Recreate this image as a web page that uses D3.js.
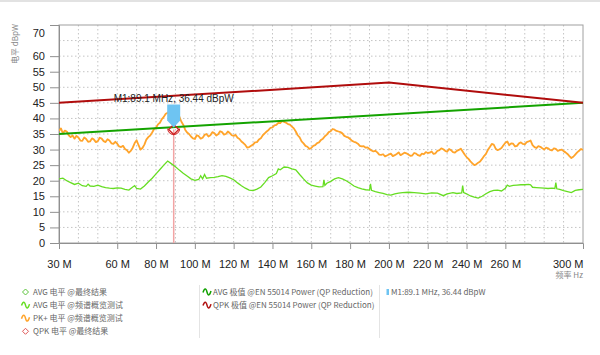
<!DOCTYPE html>
<html><head><meta charset="utf-8">
<script src="https://cdn.jsdelivr.net/npm/d3@7"></script>
<style>
html,body{margin:0;padding:0;background:#fff;}
svg{display:block;}
</style></head>
<body>
<svg id="chart" width="600" height="355"></svg>
<script>
// ---------- data ----------
const xTickLabels = [30, 60, 80, 100, 120, 140, 160, 180, 200, 220, 240, 260, 300];
const yTickLabels = [0, 5, 10, 15, 20, 25, 30, 35, 40, 45, 50, 55, 60, 70];

// PK+ level @ spectrum overview (1 MHz steps from 30 MHz)
const pkFreqStart = 30, pkFreqStep = 1;
const pkValues = [
36.0,36.8,35.2,36.1,35.8,34.6,34.0,34.5,33.5,34.4,33.9,32.9,32.8,33.9,33.4,32.5,32.6,33.6,33.2,32.4,
32.7,33.8,33.5,32.7,32.4,33.3,32.9,32.0,31.8,32.5,31.9,31.0,30.8,31.2,30.2,29.8,29.0,29.6,30.6,32.1,
33.0,31.4,30.0,30.5,31.6,33.2,34.0,34.5,35.5,36.6,37.0,38.1,38.6,39.8,40.5,41.5,41.8,42.5,42.2,41.4,
41.0,41.5,40.6,39.0,38.0,36.4,35.5,35.0,34.2,33.6,33.4,34.6,34.3,33.5,33.8,34.7,35.0,34.2,34.6,35.6,
35.3,34.5,34.9,35.9,35.6,34.8,35.0,35.8,35.3,34.6,34.4,34.7,33.8,33.4,32.6,32.1,31.5,30.6,30.8,31.2,
31.6,32.3,32.4,33.2,33.6,34.6,35.2,35.8,36.3,37.0,37.1,37.8,37.9,38.6,38.5,39.2,38.9,38.6,38.2,38.0,
37.4,36.8,35.8,34.6,33.9,32.6,32.0,31.2,30.9,30.2,30.5,31.2,31.4,32.1,32.3,33.1,33.5,34.3,34.8,35.6,
35.9,36.6,36.4,36.0,35.8,35.6,35.2,34.4,34.1,33.9,33.4,32.8,32.5,32.3,31.9,31.2,31.0,31.1,30.6,30.7,
30.2,29.7,29.4,29.6,29.1,28.4,28.3,28.5,27.8,28.1,28.4,28.7,27.9,28.2,28.6,29.1,28.2,28.6,29.0,28.8,
28.4,28.0,28.1,28.9,28.7,28.2,28.0,28.7,28.5,29.2,28.9,29.0,29.4,28.6,28.8,29.6,29.8,30.4,30.1,29.6,
29.3,30.2,29.8,29.2,29.0,29.6,29.9,30.3,29.4,28.4,27.6,27.0,26.2,25.6,25.0,25.3,25.8,26.2,27.0,27.9,
28.6,29.9,30.8,31.8,31.6,30.3,29.8,30.1,30.5,31.4,32.2,32.6,31.4,32.0,31.9,31.0,31.2,32.0,32.3,31.8,
31.7,32.4,32.6,32.9,31.4,30.8,30.5,31.1,30.9,30.4,30.0,30.6,30.4,29.9,29.7,30.4,30.2,29.6,29.8,30.0,
29.5,29.1,28.6,27.9,27.3,27.7,28.4,29.1,29.6,30.2,29.9
];

// AVG level @ spectrum overview: [MHz, dBpW]
const avgScan = [
[30,20.6],[32,20.8],[34,20.0],[36,19.4],[38,18.8],[40,19.2],[42,18.4],[44,18.2],[45,18.9],[46,18.3],
[48,18.2],[50,18.6],[52,18.1],[54,17.8],[56,17.6],[58,17.5],[60,17.7],[62,17.6],[64,17.2],[66,17.0],
[68,18.0],[69,18.4],[70,17.5],[72,17.3],[74,18.3],[76,19.6],[78,20.8],[80,22.2],[82,23.6],[84,25.0],
[86,26.3],[88,25.4],[90,24.5],[92,23.4],[94,22.4],[96,21.5],[98,20.6],[100,20.1],[102,20.4],[103,21.6],
[104,20.6],[105,22.0],[106,20.8],[108,21.0],[110,21.1],[112,21.3],[114,21.6],[116,21.4],[118,20.9],[120,20.3],
[122,19.3],[124,18.4],[126,17.6],[128,17.0],[130,16.8],[132,17.3],[134,18.0],[136,19.4],[138,21.0],[140,21.6],
[142,22.3],[143,23.8],[144,23.5],[146,24.4],[148,24.3],[150,23.8],[152,23.5],[154,22.0],[156,20.6],[158,19.3],
[160,18.6],[162,18.3],[164,18.0],[166,18.1],[166.5,20.3],[167,18.5],[168,19.2],[170,19.8],[172,20.6],[174,21.0],
[176,20.6],[178,20.0],[180,19.2],[182,18.3],[184,17.8],[186,17.4],[188,17.1],[190,17.0],[190.5,19.0],[191,16.9],
[193,16.5],[195,16.2],[197,15.9],[199,15.5],[201,15.4],[203,15.8],[205,16.0],[207,16.2],[210,16.3],[213,16.2],
[216,16.0],[219,15.8],[222,16.1],[225,16.0],[228,15.2],[230,15.8],[233,16.2],[235,15.9],[237.5,16.1],[238,18.4],
[238.5,16.2],[240,15.8],[242,15.1],[244,14.7],[246,14.4],[248,15.0],[250,15.8],[252,16.5],[254,16.9],[256,17.0],
[258,16.7],[260,17.6],[261,18.6],[262,18.2],[264,18.5],[266,18.6],[268,18.7],[270,18.7],[272,18.8],[273,18.7],
[274,17.9],[276,17.8],[278,17.7],[280,17.6],[282,17.5],[284,17.6],[285.5,17.5],[286,19.4],[286.5,17.4],[288,17.2],
[290,16.8],[292,16.5],[294,16.2],[296,16.9],[298,17.1],[300,17.2]
];

// Limit lines EN 55014 Power (QP Reduction)
const avgLimit = [[30,35],[300,45]];
const qpkLimit = [[30,45],[200,51.5],[300,45]];

// Marker / final result
const markerFreq = 89.1, markerLevel = 36.44;
const markerText = "M1:89.1 MHz, 36.44 dBpW";

const legendCol1 = [
  {text:"AVG 电平 @最终结果", type:"diamond", color:"#5cc43c"},
  {text:"AVG 电平 @频谱概览测试", type:"wave", color:"#66dd22"},
  {text:"PK+ 电平 @频谱概览测试", type:"wave", color:"#ffa42b"},
  {text:"QPK 电平 @最终结果", type:"diamond", color:"#e05555"}
];
const legendCol2 = [
  {text:"AVG 极值 @EN 55014 Power (QP Reduction)", type:"wave", color:"#11a000"},
  {text:"QPK 极值 @EN 55014 Power (QP Reduction)", type:"wave", color:"#b01010"}
];
const legendCol3 = [{text:"M1:89.1 MHz, 36.44 dBpW", type:"bar", color:"#6ec4f2"}];

// ---------- drawing ----------
const svg = d3.select("#chart");
const L = 59, R = 583, T = 25, B = 243;
const x = d3.scaleLinear().domain([30, 300]).range([L, R]);
const y = d3.scaleLinear().domain([0, 70]).range([B, T]);
const tickFont = "'Liberation Sans', Arial, sans-serif";
const cjkFont = "'Noto Sans CJK SC', 'Noto Sans', sans-serif";

// top strip
svg.append("rect").attr("x",0).attr("y",0).attr("width",600).attr("height",2).attr("fill","#e2e2e2");

// grid
const grid = svg.append("g");
grid.selectAll("line.h").data(d3.range(5, 70, 5)).join("line")
  .attr("x1", L).attr("x2", R).attr("y1", d => y(d)).attr("y2", d => y(d))
  .attr("stroke", "#c4c4c4").attr("stroke-width", 1).attr("stroke-dasharray", "1.5,2.5");
grid.selectAll("line.v").data(d3.range(40, 300, 10)).join("line")
  .attr("y1", T).attr("y2", B).attr("x1", d => x(d)).attr("x2", d => x(d))
  .attr("stroke", "#c4c4c4").attr("stroke-width", 1).attr("stroke-dasharray", "1.5,2.5");

// border
svg.append("rect").attr("x", L).attr("y", T).attr("width", R - L).attr("height", B - T)
  .attr("fill", "none").attr("stroke", "#a0a0a0").attr("stroke-width", 1);

// x axis
const xAxis = d3.axisBottom(x).tickValues(xTickLabels).tickSize(6).tickFormat(d => d + " M");
const gx = svg.append("g").attr("transform", `translate(0,${B})`).call(xAxis);
gx.select(".domain").attr("stroke", "#909090");
gx.selectAll(".tick line").attr("stroke", "#909090").attr("opacity", d => (d === 30 || d === 300) ? 0 : 1);
gx.selectAll(".tick text").attr("font-family", tickFont).attr("font-size", 11).attr("fill", "#222")
  .attr("dy", "1.45em")
  .attr("text-anchor", d => d === 300 ? "end" : "middle");

// y axis
const yAxis = d3.axisLeft(y).tickValues(yTickLabels).tickSize(9).tickPadding(5);
const gy = svg.append("g").attr("transform", `translate(${L},0)`).call(yAxis);
gy.select(".domain").attr("stroke", "#909090");
gy.selectAll(".tick line").attr("stroke", "#909090").attr("opacity", d => d === 70 ? 0 : 1);
gy.selectAll(".tick text").attr("font-family", tickFont).attr("font-size", 11).attr("fill", "#222")
  .attr("x", -14)
  .attr("y", d => d === 70 ? 8 : 0);

// axis titles
svg.append("text").attr("transform", "translate(18,44) rotate(-90)")
  .attr("text-anchor", "middle").attr("font-family", cjkFont).attr("font-size", 8)
  .attr("fill", "#888").text("电平 dBpW");
svg.append("text").attr("x", 583).attr("y", 278).attr("text-anchor", "end")
  .attr("font-family", cjkFont).attr("font-size", 8).attr("fill", "#888").text("频率 Hz");

// clip
svg.append("clipPath").attr("id", "clip").append("rect")
  .attr("x", L).attr("y", T).attr("width", R - L).attr("height", B - T);
const plot = svg.append("g").attr("clip-path", "url(#clip)");

const line = d3.line().x(d => x(d[0])).y(d => y(d[1]));

// marker vertical line
plot.append("line").attr("x1", x(markerFreq)).attr("x2", x(markerFreq))
  .attr("y1", y(markerLevel)).attr("y2", B)
  .attr("stroke", "#f2a4a4").attr("stroke-width", 1.5);

// AVG scan
plot.append("path").datum(avgScan).attr("d", line)
  .attr("fill", "none").attr("stroke", "#66dd22").attr("stroke-width", 1.3);

// PK+ scan
const pkData = pkValues.map((v, i) => [pkFreqStart + i * pkFreqStep, v]);
plot.append("path").datum(pkData).attr("d", line)
  .attr("fill", "none").attr("stroke", "#ffa42b").attr("stroke-width", 1.8).attr("stroke-linejoin", "round");

// limits
plot.append("path").datum(avgLimit).attr("d", line)
  .attr("fill", "none").attr("stroke", "#14a300").attr("stroke-width", 2);
plot.append("path").datum(qpkLimit).attr("d", line)
  .attr("fill", "none").attr("stroke", "#b00c0c").attr("stroke-width", 2);

// final result symbol (QPK)
const mx = x(markerFreq), my = y(markerLevel);
svg.append("path").attr("d", `M${mx},${my-5}L${mx+5},${my}L${mx},${my+5}L${mx-5},${my}Z`)
  .attr("fill", "none").attr("stroke", "#d02020").attr("stroke-width", 1.3);
svg.append("path").attr("d", d3.arc()({innerRadius: 5.5, outerRadius: 6.5, startAngle: Math.PI/2, endAngle: Math.PI*1.5}))
  .attr("transform", `translate(${mx},${my-1})`).attr("fill", "#d02020");

// marker flag
const fw = 6.5;
svg.append("path")
  .attr("d", `M${mx-fw},${my-25}L${mx+fw},${my-25}L${mx+fw},${my-9}L${mx},${my-2}L${mx-fw},${my-9}Z`)
  .attr("fill", "#6ec4f2");
svg.append("text").attr("x", mx).attr("y", my - 28).attr("text-anchor", "middle")
  .attr("font-family", tickFont).attr("font-size", 10).attr("fill", "#222").text(markerText);

// ---------- legend ----------
function icon(g, item, cx, cy) {
  if (item.type === "diamond") {
    g.append("path").attr("d", `M${cx},${cy-3}L${cx+3},${cy}L${cx},${cy+3}L${cx-3},${cy}Z`)
      .attr("fill", "none").attr("stroke", item.color).attr("stroke-width", 1);
  } else if (item.type === "wave") {
    g.append("path").attr("d", `M${cx-4},${cy+0.5}C${cx-2.5},${cy-4} ${cx-1},${cy-4} ${cx},${cy}S${cx+2.5},${cy+4} ${cx+4},${cy-1}`)
      .attr("fill", "none").attr("stroke", item.color).attr("stroke-width", 1.5);
  } else {
    g.append("rect").attr("x", cx - 1).attr("y", cy - 3).attr("width", 2.5).attr("height", 6).attr("fill", item.color);
  }
}
function legendColumn(items, ix, tx, y0) {
  const g = svg.append("g");
  items.forEach((it, i) => {
    const cy = y0 + i * 13.1;
    icon(g, it, ix, cy);
    g.append("text").attr("x", tx).attr("y", cy + 3).attr("font-family", cjkFont)
      .attr("font-size", 8).attr("fill", "#666").text(it.text);
  });
}
legendColumn(legendCol1, 25.5, 33, 292);
legendColumn(legendCol2, 207, 213, 292);
legendColumn(legendCol3, 387.5, 391, 292);
svg.append("line").attr("x1", 199.5).attr("x2", 199.5).attr("y1", 285).attr("y2", 338).attr("stroke", "#e4e4e4");
svg.append("line").attr("x1", 379.5).attr("x2", 379.5).attr("y1", 285).attr("y2", 338).attr("stroke", "#e4e4e4");
</script>
</body></html>
